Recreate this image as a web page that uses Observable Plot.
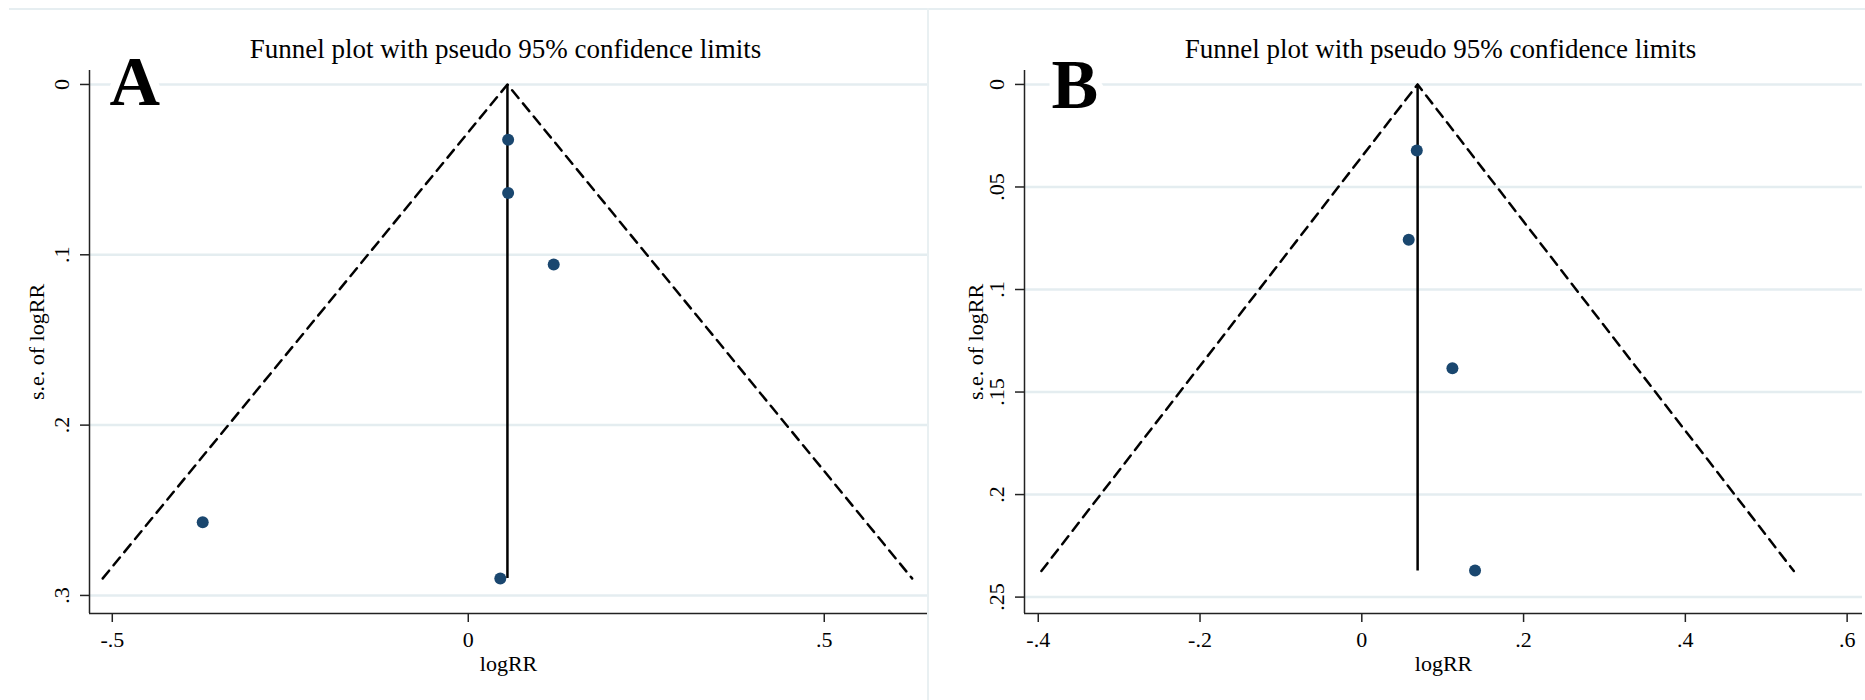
<!DOCTYPE html>
<html>
<head>
<meta charset="utf-8">
<script src="https://cdn.jsdelivr.net/npm/d3@7"></script>
<script src="https://cdn.jsdelivr.net/npm/@observablehq/plot@0.6"></script>
<style>
  html, body { margin: 0; padding: 0; background: #fff; }
  #wrap { position: relative; width: 1865px; height: 700px; overflow: hidden; background: #fff; }
  .panel { position: absolute; top: 0; height: 700px; }
  .topline { position: absolute; left: 9px; right: 0; top: 8px; height: 2px; background: #e6eef1; }
  .sepline { position: absolute; left: 927px; top: 8px; bottom: 0; width: 2px; background: #e9f0f2; }
</style>
</head>
<body>
<div id="wrap">
  <div class="topline"></div>
  <div class="sepline"></div>
  <div class="panel" id="pA" style="left:0px;width:928px"></div>
  <div class="panel" id="pB" style="left:928px;width:937px"></div>
</div>
<script>
// ---- text ----
const titleText = "Funnel plot with pseudo 95% confidence limits";
const xLabel = "logRR";
const yLabel = "s.e. of logRR";
const panelLabels = ["A", "B"];

// ---- panel A data ----
const logRR_A = [0.056, 0.056, 0.120, -0.373, 0.045];
const se_A    = [0.0324, 0.0637, 0.1057, 0.257, 0.290];
const pooled_A = 0.055;
const seMax_A = 0.290;
const xTicks_A = [-0.5, 0, 0.5];
const xTickLabels_A = ["-.5", "0", ".5"];
const yTicks_A = [0, 0.1, 0.2, 0.3];
const yTickLabels_A = ["0", ".1", ".2", ".3"];
const xDomain_A = [-0.532, 0.645];
const yDomain_A = [-0.0082, 0.3106];

// ---- panel B data ----
const logRR_B = [0.068, 0.058, 0.112, 0.140];
const se_B    = [0.0322, 0.0757, 0.1384, 0.237];
const pooled_B = 0.069;
const seMax_B = 0.2373;
const xTicks_B = [-0.4, -0.2, 0, 0.2, 0.4, 0.6];
const xTickLabels_B = ["-.4", "-.2", "0", ".2", ".4", ".6"];
const yTicks_B = [0, 0.05, 0.1, 0.15, 0.2, 0.25];
const yTickLabels_B = ["0", ".05", ".1", ".15", ".2", ".25"];
const xDomain_B = [-0.417, 0.619];
const yDomain_B = [-0.0068, 0.258];

const dotColor = "#1a476f";
const gridColor = "#e4edf0";
const axisColor = "#222";

function panel(cfg) {
  const pts = cfg.logRR.map((x, i) => ({x, y: cfg.se[i]}));
  const z = 1.96;
  const funnel = [
    {x: cfg.pooled - z * cfg.seMax, y: cfg.seMax},
    {x: cfg.pooled, y: 0},
    {x: cfg.pooled + z * cfg.seMax, y: cfg.seMax}
  ];
  const fmtX = d => cfg.xTickLabels[cfg.xTicks.indexOf(d)];
  const fmtY = d => cfg.yTickLabels[cfg.yTicks.indexOf(d)];
  return Plot.plot({
    width: cfg.width,
    height: 700,
    marginLeft: cfg.ml,
    marginRight: cfg.mr,
    marginTop: 70,
    marginBottom: 87,
    style: {fontFamily: "'Liberation Serif', 'Times New Roman', serif", background: "transparent", color: "#000", overflow: "visible"},
    x: {domain: cfg.xDomain, axis: null},
    y: {domain: cfg.yDomain, reverse: true, axis: null},
    marks: [
      Plot.gridY(cfg.yTicks, {stroke: gridColor, strokeOpacity: 1, strokeWidth: 2.5}),
      Plot.ruleX([cfg.xDomain[0]], {stroke: axisColor, strokeWidth: 1.5}),
      Plot.ruleY([cfg.yDomain[1]], {stroke: axisColor, strokeWidth: 1.5}),
      Plot.axisX(cfg.xTicks, {anchor: "bottom", tickSize: 9, tickPadding: 9, tickFormat: fmtX, fontSize: 22, label: null, stroke: axisColor, strokeWidth: 1.5}),
      Plot.axisY(cfg.yTicks, {anchor: "left", tickSize: 9, tickPadding: 12, tickRotate: -90, tickFormat: fmtY, fontSize: 22, label: null, stroke: axisColor, strokeWidth: 1.5}),
      Plot.text([yLabel], {frameAnchor: "left", dx: cfg.ylabDx, rotate: -90, textAnchor: "middle", lineAnchor: "middle", fontSize: 22}),
      Plot.text([xLabel], {frameAnchor: "bottom", dy: 57, textAnchor: "middle", lineAnchor: "bottom", fontSize: 22}),
      Plot.text([titleText], {frameAnchor: "top", dy: -13, dx: -3, textAnchor: "middle", lineAnchor: "bottom", fontSize: 27}),
      Plot.line(funnel, {x: "x", y: "y", stroke: "#000", strokeWidth: 2.5, strokeDasharray: "10,7"}),
      Plot.ruleX([cfg.pooled], {y1: 0, y2: cfg.seMax, stroke: "#000", strokeWidth: 2.5}),
      Plot.dot(pts, {x: "x", y: "y", r: 6, fill: dotColor, stroke: "none"}),
      Plot.text([cfg.letter], {frameAnchor: "top-left", dx: cfg.letDx, dy: cfg.letDy, textAnchor: "start", lineAnchor: "bottom", fontSize: 70, fontWeight: "bold", fill: "#000", stroke: "#fff", strokeWidth: 18, paintOrder: "stroke"})
    ]
  });
}

document.getElementById("pA").appendChild(panel({
  width: 928, ml: 89, mr: 1,
  logRR: logRR_A, se: se_A, pooled: pooled_A, seMax: seMax_A,
  xTicks: xTicks_A, xTickLabels: xTickLabels_A, yTicks: yTicks_A, yTickLabels: yTickLabels_A,
  xDomain: xDomain_A, yDomain: yDomain_A,
  ylabDx: -53, letter: panelLabels[0], letDx: 20, letDy: 34
}));

document.getElementById("pB").appendChild(panel({
  width: 937, ml: 96, mr: 3,
  logRR: logRR_B, se: se_B, pooled: pooled_B, seMax: seMax_B,
  xTicks: xTicks_B, xTickLabels: xTickLabels_B, yTicks: yTicks_B, yTickLabels: yTickLabels_B,
  xDomain: xDomain_B, yDomain: yDomain_B,
  ylabDx: -49, letter: panelLabels[1], letDx: 27, letDy: 37
}));
</script>
</body>
</html>
